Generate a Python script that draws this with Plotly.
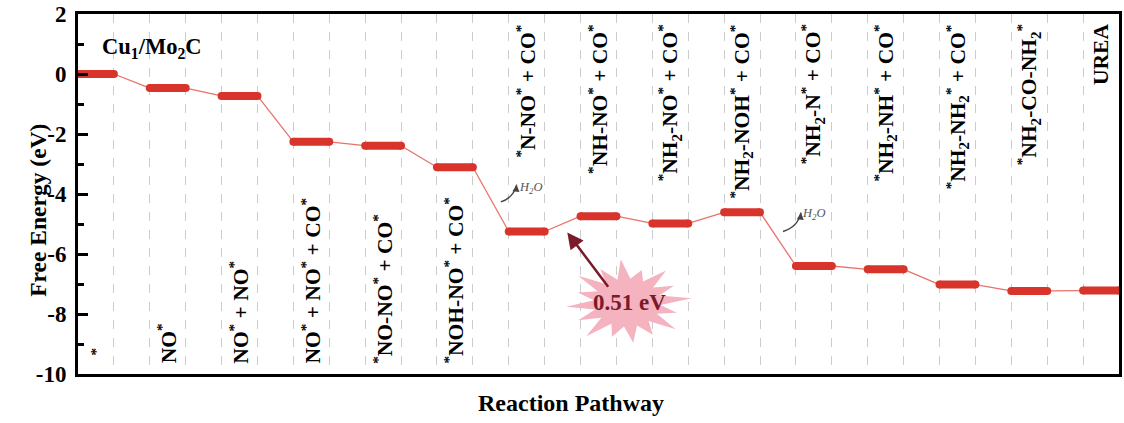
import math
import plotly.graph_objects as go

# ---------------- data ----------------
states = [
    "<sup>*</sup>",
    "NO<sup>*</sup>",
    "NO<sup>*</sup> + NO<sup>*</sup>",
    "NO<sup>*</sup> + NO<sup>*</sup> + CO<sup>*</sup>",
    "<sup>*</sup>NO-NO<sup>*</sup> + CO<sup>*</sup>",
    "<sup>*</sup>NOH-NO<sup>*</sup> + CO<sup>*</sup>",
    "<sup>*</sup>N-NO<sup>*</sup> + CO<sup>*</sup>",
    "<sup>*</sup>NH-NO<sup>*</sup> + CO<sup>*</sup>",
    "<sup>*</sup>NH<sub>2</sub>-NO<sup>*</sup> + CO<sup>*</sup>",
    "<sup>*</sup>NH<sub>2</sub>-NOH<sup>*</sup> + CO<sup>*</sup>",
    "<sup>*</sup>NH<sub>2</sub>-N<sup>*</sup> + CO<sup>*</sup>",
    "<sup>*</sup>NH<sub>2</sub>-NH<sup>*</sup> + CO<sup>*</sup>",
    "<sup>*</sup>NH<sub>2</sub>-NH<sub>2</sub><sup>*</sup> + CO<sup>*</sup>",
    "<sup>*</sup>NH<sub>2</sub>-CO-NH<sub>2</sub><sup>*</sup>",
    "UREA",
]
energies = [0.00, -0.47, -0.73, -2.26, -2.39, -3.11, -5.25, -4.74, -4.98,
            -4.61, -6.40, -6.51, -7.02, -7.23, -7.22]
label_at_top = [False] * 6 + [True] * 9
y_ticks = [2, 0, -2, -4, -6, -8, -10]
y_ticktext = ["2", "0", "-2", "-4", "-6", "-8", "-10"]
y_minor = [1, -1, -3, -5, -7, -9]
barrier_text = "0.51 eV"
catalyst = "Cu<sub>1</sub>/Mo<sub>2</sub>C"

FONT = "Liberation Serif, Times New Roman, serif"
RED = "#d9342b"
LINE_RED = "#e8736a"
DARK = "#7b1a2a"

n = len(energies)
lv_x, lv_y, cn_x, cn_y = [], [], [], []
for i, e in enumerate(energies):
    lv_x += [2 * i, 2 * i + 1, None]
    lv_y += [e, e, None]
    if i < n - 1:
        cn_x += [2 * i + 1, 2 * i + 2, None]
        cn_y += [e, energies[i + 1], None]

fig = go.Figure()
fig.add_trace(go.Scatter(x=cn_x, y=cn_y, mode="lines",
                         line=dict(color=LINE_RED, width=1.3),
                         hoverinfo="skip", showlegend=False))
fig.add_trace(go.Scatter(x=lv_x, y=lv_y, mode="lines+markers",
                         line=dict(color=RED, width=8),
                         marker=dict(color=RED, size=8),
                         hoverinfo="skip", showlegend=False))

annotations = []
for i, (lab, top) in enumerate(zip(states, label_at_top)):
    if i == 0:
        yv = -9.45
    else:
        yv = 1.72 if top else -9.72
    annotations.append(dict(
        x=2 * i + 0.5, y=yv, xref="x", yref="y",
        text=lab, textangle=-90, showarrow=False,
        xanchor="center", yanchor="top" if top else "bottom",
        font=dict(family=FONT, size=21.5, color="black", weight="bold")))

annotations.append(dict(x=0.61, y=0.86, xref="x", yref="y", text=catalyst,
                        showarrow=False, xanchor="left", yanchor="middle",
                        font=dict(family=FONT, size=22.5, color="black", weight="bold")))

# star burst
cx, cy = 15.30, -7.62
rx, ry = 1.80, 1.45
spike = [1.0, 0.82, 0.95, 0.78, 1.0, 0.88, 0.98, 0.8, 0.95, 0.86, 1.0, 0.82, 0.93, 0.84, 0.97, 0.8]
pts = []
m = len(spike)
for k in range(m):
    a = 2 * math.pi * k / m + 0.1
    pts.append((cx + rx * spike[k] * math.cos(a), cy + ry * spike[k] * math.sin(a)))
    a2 = a + math.pi / m
    pts.append((cx + rx * 0.52 * math.cos(a2), cy + ry * 0.55 * math.sin(a2)))
path = "M " + " L ".join(f"{x:.3f} {y:.3f}" for x, y in pts) + " Z"
shapes = [dict(type="path", path=path, xref="x", yref="y",
               fillcolor="#f5b3c0", line=dict(width=0), layer="above")]

annotations.append(dict(x=13.63, y=-5.28, ax=14.8, ay=-7.14, xref="x", yref="y",
                        axref="x", ayref="y", text="", showarrow=True,
                        arrowhead=2, arrowsize=1.3, arrowwidth=2.5, arrowcolor=DARK))
annotations.append(dict(x=15.35, y=-7.62, xref="x", yref="y", text=barrier_text,
                        showarrow=False,
                        font=dict(family=FONT, size=23, color=DARK, weight="bold")))

# H2O release marks
for (sx, sy, qx, qy, ex, ey, tx, ty) in [
        (11.78, -4.26, 12.14, -4.12, 12.22, -3.69, 12.61, -3.79),
        (19.64, -5.25, 20.06, -5.09, 20.14, -4.62, 20.50, -4.65)]:
    shapes.append(dict(type="path", path=f"M {sx} {sy} Q {qx} {qy} {ex} {ey}",
                       xref="x", yref="y", line=dict(color="#444444", width=1.4)))
    annotations.append(dict(x=ex, y=ey, ax=ex - 0.01, ay=ey - 0.12, xref="x", yref="y",
                            axref="x", ayref="y", text="", showarrow=True,
                            arrowhead=2, arrowsize=1, arrowwidth=1.4,
                            arrowcolor="#444444"))
    annotations.append(dict(x=tx, y=ty, xref="x", yref="y",
                            text="<i>H<sub>2</sub>O</i>", showarrow=False,
                            font=dict(family=FONT, size=12.5, color="#555555")))

# axis titles
annotations.append(dict(x=0.474, y=-0.08, xref="paper", yref="paper",
                        text="Reaction Pathway", showarrow=False, yanchor="middle",
                        font=dict(family=FONT, size=24, color="black", weight="bold")))
annotations.append(dict(x=-0.0536, y=0.454, xref="paper", yref="paper",
                        text="Free Energy (eV)", showarrow=False, textangle=-90,
                        font=dict(family=FONT, size=23.5, color="black", weight="bold")))

fig.update_layout(
    width=1124, height=423,
    margin=dict(l=78, r=2, t=13, b=49),
    paper_bgcolor="white", plot_bgcolor="white",
    annotations=annotations, shapes=shapes,
    xaxis=dict(range=[0, 29], tick0=0, dtick=1, showgrid=True,
               gridcolor="#cccccc", griddash="dash", gridwidth=1,
               showticklabels=False, ticks="", zeroline=False,
               showline=True, linewidth=3, linecolor="black", mirror=True),
    yaxis=dict(range=[-10, 2], tickvals=y_ticks, ticktext=y_ticktext,
               ticks="inside", ticklen=10, ticklabelstandoff=4,
               tickwidth=3, tickcolor="black", showgrid=False, zeroline=False,
               showline=True, linewidth=3, linecolor="black", mirror=True,
               tickfont=dict(family=FONT, size=23, color="black", weight="bold"),
               minor=dict(tickvals=y_minor, ticks="inside", ticklen=6,
                          tickwidth=3, tickcolor="black", showgrid=False)),
)

fig.write_html("out.html")
